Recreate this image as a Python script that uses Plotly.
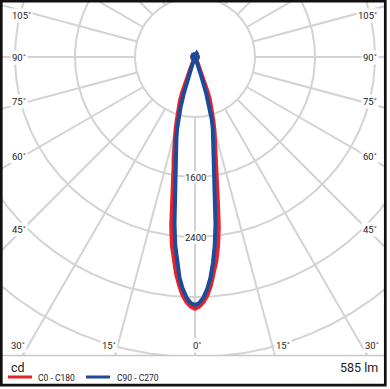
import numpy as np
import plotly.graph_objects as go

# ---------------- data ----------------
angles_deg = list(range(0, 26)) + list(range(30, 181, 5))
c0_c180 = [3356, 3330, 3270, 3180, 3050, 2900, 2730, 2530, 2280, 1950, 1680,
           1500, 1370, 1240, 1110, 1000, 890, 800, 710, 620, 500, 330, 150, 60, 35, 30,
           45, 30, 55, 25, 50, 35, 55, 30, 45, 40, 55, 35, 50, 30, 45, 40,
           50, 35, 55, 30, 45, 35, 50, 30, 45, 40, 50, 35, 45, 40, 50]
c90_c270 = [3307, 3280, 3210, 3100, 2950, 2750, 2520, 2240, 1920, 1620, 1440,
            1310, 1200, 1100, 980, 860, 700, 520, 280, 110, 45, 30, 25, 35, 45, 50,
            35, 55, 30, 50, 25, 55, 35, 50, 30, 55, 40, 50, 30, 45, 35, 55,
            30, 50, 40, 55, 30, 45, 40, 50, 35, 55, 30, 45, 35, 50, 40]
series_names = ["C0 - C180", "C90 - C270"]
series_colors = ["#e5232a", "#1c4b9c"]
ring_values = [800, 1600, 2400, 3200, 4000, 4800, 5600, 6400]
ring_labels = {1600: "1600", 2400: "2400"}
angle_ticks = [105, 90, 75, 60, 45, 30, 15, 0]
flux_text = "585 lm"
unit_text = "cd"

# ---------------- geometry ----------------
W, H = 390, 389
CX, CY = 195, 57          # pole position in pixels
S = 0.075                 # pixels per cd
PL, PR, PT, PB = 2, 385, 2, 355

xr = [(PL - CX) / S, (PR - CX) / S]
yr = [-(PB - CY) / S, -(PT - CY) / S]

fig = go.Figure()

# grid circles
gx, gy = [], []
t = np.linspace(0, 2 * np.pi, 721)
for r in ring_values:
    gx += list(r * np.cos(t)) + [None]
    gy += list(r * np.sin(t)) + [None]
# radial lines
for a in range(0, 360, 15):
    ar = np.radians(a)
    gx += [800 * np.sin(ar), 8000 * np.sin(ar), None]
    gy += [-800 * np.cos(ar), -8000 * np.cos(ar), None]
fig.add_trace(go.Scatter(x=gx, y=gy, mode="lines", line=dict(color="#d3d3d3", width=2),
                         hoverinfo="skip", showlegend=False))

# curves
for vals, name, col in zip([c0_c180, c90_c270], series_names, series_colors):
    th = [-a for a in angles_deg[::-1]] + angles_deg[1:]
    iv = vals[::-1] + vals[1:]
    thr = np.radians(th)
    x = np.array(iv) * np.sin(thr)
    y = -np.array(iv) * np.cos(thr)
    fig.add_trace(go.Scatter(x=x, y=y, mode="lines", name=name,
                             line=dict(color=col, width=4), showlegend=False))

def px(xp):
    return xp / W

def py(yp):
    return 1 - yp / H

ann = []
lab_font = dict(family="Roboto, Liberation Sans, sans-serif", size=9.5, color="#222")
# ring labels
for r, txt in ring_labels.items():
    ann.append(dict(x=0, y=-r, xref="x", yref="y", text=txt, showarrow=False,
                    xanchor="center", yanchor="middle",
                    font=lab_font, bgcolor="white", borderpad=0))
# angle labels (positions in pixels)
left_pos = {105: (10, 16), 90: (10, 57), 75: (10, 102), 60: (10, 156), 45: (10, 229)}
right_pos = {105: (379, 16), 90: (379, 57), 75: (379, 102), 60: (379, 156), 45: (379, 229)}
for a in angle_ticks:
    txt = f"{a}˚"
    if a in left_pos:
        lx, ly = left_pos[a]
        ann.append(dict(x=px(lx), y=py(ly), xref="paper", yref="paper", text=txt,
                        showarrow=False, xanchor="left", yanchor="middle", font=lab_font,
                        bgcolor="white", borderpad=1))
        rx, ry = right_pos[a]
        ann.append(dict(x=px(rx), y=py(ry), xref="paper", yref="paper", text=txt,
                        showarrow=False, xanchor="right", yanchor="middle", font=lab_font,
                        bgcolor="white", borderpad=1))
bottom_pos = {30: (18, 372), 15: (109, 283), 0: (197, None)}
for a, (l, r) in bottom_pos.items():
    txt = f"{a}˚"
    for xx in [l, r]:
        if xx is None:
            continue
        ann.append(dict(x=px(xx), y=py(345), xref="paper", yref="paper", text=txt,
                        showarrow=False, xanchor="center", yanchor="middle",
                        font=lab_font, bgcolor="white", borderpad=1))

# legend area text
ann.append(dict(x=px(9), y=py(367), xref="paper", yref="paper", text=unit_text,
                showarrow=False, xanchor="left", yanchor="middle",
                font=dict(family="Roboto, sans-serif", size=12.5, color="#222")))
ann.append(dict(x=px(380), y=py(367), xref="paper", yref="paper", text=flux_text,
                showarrow=False, xanchor="right", yanchor="middle",
                font=dict(family="Roboto, sans-serif", size=12.5, color="#222")))
leg_x = [(8, 32, 36), (86, 110, 115)]
shapes = []
for (x0, x1, xt), name, col in zip(leg_x, series_names, series_colors):
    shapes.append(dict(type="line", xref="paper", yref="paper", x0=px(x0), x1=px(x1),
                       y0=py(377), y1=py(377), line=dict(color=col, width=3)))
    ann.append(dict(x=px(xt), y=py(378), xref="paper", yref="paper", text=name,
                    showarrow=False, xanchor="left", yanchor="middle",
                    font=dict(family="Roboto, sans-serif", size=8.5, color="#222")))

# separator and border
shapes.append(dict(type="line", xref="paper", yref="paper", x0=px(2), x1=px(385),
                   y0=py(355.5), y1=py(355.5), line=dict(color="#c8c8c8", width=1.5)))
shapes.append(dict(type="rect", xref="paper", yref="paper", x0=px(1.3), x1=px(385.3),
                   y0=py(1.2), y1=py(385.2), line=dict(color="#111", width=2.7)))

fig.update_layout(
    width=W, height=H, autosize=False,
    margin=dict(l=0, r=0, t=0, b=0),
    paper_bgcolor="white", plot_bgcolor="white",
    xaxis=dict(range=xr, domain=[PL / W, PR / W], visible=False, fixedrange=True),
    yaxis=dict(range=yr, domain=[1 - PB / H, 1 - PT / H], visible=False, fixedrange=True),
    annotations=ann, shapes=shapes, showlegend=False,
)

fig.write_html("out.html", config={"displayModeBar": False},
               post_script="document.body.style.margin='0px';")

with open("out.html", "r", encoding="utf-8") as f:
    html = f.read()
html = html.replace("<head>", "<head><style>html,body{margin:0;padding:0;overflow:hidden;}</style>", 1)
with open("out.html", "w", encoding="utf-8") as f:
    f.write(html)
